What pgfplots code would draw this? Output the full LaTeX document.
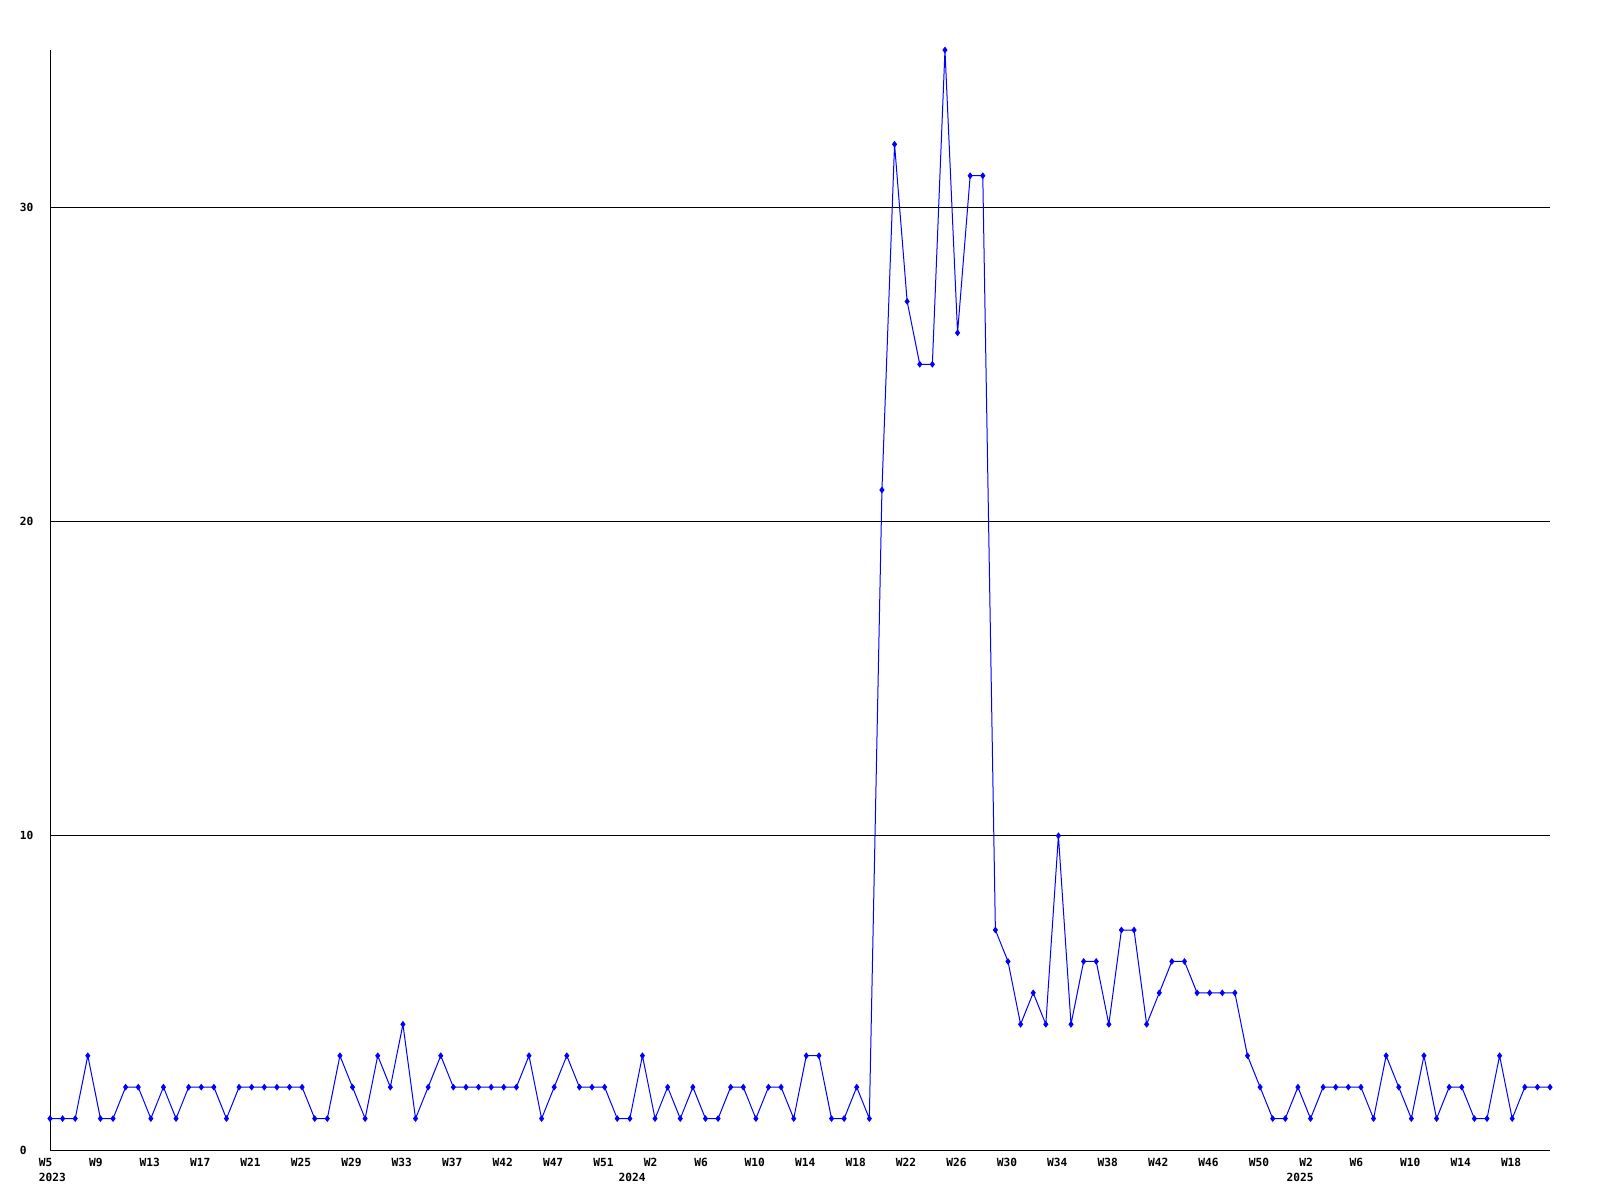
\documentclass[border=0pt]{standalone}
\usepackage{fontspec}
\setmonofont{DejaVu Sans Mono}
\usepackage{pgfplots}
\pgfplotsset{compat=1.18}
\pgfplotstableread{
i v
0 1
1 1
2 1
3 3
4 1
5 1
6 2
7 2
8 1
9 2
10 1
11 2
12 2
13 2
14 1
15 2
16 2
17 2
18 2
19 2
20 2
21 1
22 1
23 3
24 2
25 1
26 3
27 2
28 4
29 1
30 2
31 3
32 2
33 2
34 2
35 2
36 2
37 2
38 3
39 1
40 2
41 3
42 2
43 2
44 2
45 1
46 1
47 3
48 1
49 2
50 1
51 2
52 1
53 1
54 2
55 2
56 1
57 2
58 2
59 1
60 3
61 3
62 1
63 1
64 2
65 1
66 21
67 32
68 27
69 25
70 25
71 35
72 26
73 31
74 31
75 7
76 6
77 4
78 5
79 4
80 10
81 4
82 6
83 6
84 4
85 7
86 7
87 4
88 5
89 6
90 6
91 5
92 5
93 5
94 5
95 3
96 2
97 1
98 1
99 2
100 1
101 2
102 2
103 2
104 2
105 1
106 3
107 2
108 1
109 3
110 1
111 2
112 2
113 1
114 1
115 3
116 1
117 2
118 2
119 2
}\datatable
\begin{document}
\begin{tikzpicture}
\path[use as bounding box] (0,0) rectangle (800pt,600pt);
\begin{axis}[
  at={(25pt,25pt)}, anchor=south west,
  width=750pt, height=550pt, scale only axis,
  xmin=0, xmax=119, ymin=0, ymax=35,
  axis x line=bottom, axis y line=left,
  axis line style={-, black, line width=0.5pt},
  xtick={0,4,...,116},
  xticklabels={W5,W9,W13,W17,W21,W25,W29,W33,W37,W42,W47,W51,W2,W6,W10,W14,W18,W22,W26,W30,W34,W38,W42,W46,W50,W2,W6,W10,W14,W18},
  ytick={0,10,20,30},
  yticklabels={0,10,20,30},
  ymajorgrids, grid style={black, line width=0.5pt},
  major tick length=0pt,
  tick label style={font=\ttfamily\bfseries\fontsize{5.6}{6.5}\selectfont, inner sep=0pt},
  xticklabel style={anchor=west, xshift=-5.8pt, yshift=-6pt},
  yticklabel style={anchor=west, xshift=-15.25pt},
  clip=false,
]
\addplot[color={rgb,255:red,0;green,0;blue,255}, line width=0.5pt, mark=diamond*, mark size=1.3pt, mark options={solid}] table[x=i, y=v] {\datatable};
\node[anchor=west, inner sep=0pt, font=\ttfamily\bfseries\fontsize{5.6}{6.5}\selectfont, xshift=-5.8pt, yshift=-13.5pt] at (axis cs:0,0) {2023};
\node[anchor=west, inner sep=0pt, font=\ttfamily\bfseries\fontsize{5.6}{6.5}\selectfont, xshift=-5.8pt, yshift=-13.5pt] at (axis cs:46,0) {2024};
\node[anchor=west, inner sep=0pt, font=\ttfamily\bfseries\fontsize{5.6}{6.5}\selectfont, xshift=-5.8pt, yshift=-13.5pt] at (axis cs:99,0) {2025};
\end{axis}
\end{tikzpicture}
\end{document}
